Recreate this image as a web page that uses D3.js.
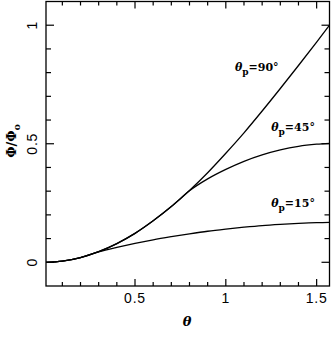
<!DOCTYPE html>
<html>
<head>
<meta charset="utf-8">
<script src="https://cdn.jsdelivr.net/npm/d3@7"></script>
<style>
  body { margin: 0; background: #fff; }
  svg { display: block; }
</style>
</head>
<body>
<div id="chart"></div>
<script>
// values
const theta = [0.01, 0.1, 0.2, 0.3, 0.4, 0.5, 0.6, 0.7, 0.8, 0.9, 1.0, 1.1, 1.2, 1.3, 1.4, 1.5, 1.5708];
const phi90 = [0, 0.005, 0.02, 0.045, 0.079, 0.122, 0.175, 0.235, 0.303, 0.378, 0.46, 0.546, 0.638, 0.733, 0.83, 0.929, 1.0];
const phi45 = [0, 0.005, 0.02, 0.045, 0.079, 0.122, 0.175, 0.235, 0.302, 0.352, 0.392, 0.426, 0.453, 0.474, 0.489, 0.498, 0.502];
const phi15 = [0, 0.005, 0.02, 0.044, 0.063, 0.08, 0.095, 0.108, 0.12, 0.131, 0.14, 0.148, 0.155, 0.16, 0.164, 0.167, 0.168];
const seriesNames = ["90", "45", "15"];
const labelPos = [[1.05, 0.805], [1.25, 0.555], [1.25, 0.235]]; // label anchor in data units (theta, phi)
const xMajor = [0.5, 1, 1.5];
const yMajor = [0, 0.5, 1];

const width = 332, height = 337;
const margin = { top: 1.5, right: 2.5, bottom: 51, left: 46 };

const svg = d3.select("#chart").append("svg")
    .attr("width", width)
    .attr("height", height);

const x = d3.scaleLinear()
    .domain([0.01, Math.PI / 2])
    .range([margin.left, width - margin.right]);

const y = d3.scaleLinear()
    .domain([-0.1, 1.1])
    .range([height - margin.bottom, margin.top]);

const xMinor = d3.range(1, 16).map(d => d / 10);
const yMinor = d3.range(0, 11).map(d => d / 10);

const g = svg.append("g");

// frame
g.append("rect")
    .attr("x", x.range()[0])
    .attr("y", y.range()[1])
    .attr("width", x.range()[1] - x.range()[0])
    .attr("height", y.range()[0] - y.range()[1])
    .attr("fill", "none")
    .attr("stroke", "#000")
    .attr("stroke-width", 1.3);

const isMajor = (v, list) => list.some(m => Math.abs(m - v) < 1e-6);

// inward ticks on all four sides
xMinor.forEach(v => {
    const len = isMajor(v, xMajor) ? 7 : 4;
    g.append("line").attr("x1", x(v)).attr("x2", x(v))
        .attr("y1", y.range()[0]).attr("y2", y.range()[0] - len)
        .attr("stroke", "#000").attr("stroke-width", 1.2);
    g.append("line").attr("x1", x(v)).attr("x2", x(v))
        .attr("y1", y.range()[1]).attr("y2", y.range()[1] + len)
        .attr("stroke", "#000").attr("stroke-width", 1.2);
});
yMinor.forEach(v => {
    const len = isMajor(v, yMajor) ? 8 : 5;
    g.append("line").attr("y1", y(v)).attr("y2", y(v))
        .attr("x1", x.range()[0]).attr("x2", x.range()[0] + len)
        .attr("stroke", "#000").attr("stroke-width", 1.2);
    g.append("line").attr("y1", y(v)).attr("y2", y(v))
        .attr("x1", x.range()[1]).attr("x2", x.range()[1] - len)
        .attr("stroke", "#000").attr("stroke-width", 1.2);
});

// tick labels
g.selectAll(".xlab").data(xMajor).enter().append("text")
    .attr("x", d => x(d))
    .attr("y", 303)
    .attr("text-anchor", "middle")
    .style("font-family", "Liberation Sans, Arial, sans-serif")
    .style("font-size", "14px")
    .style("letter-spacing", "0.8px")
    .text(d => d);

g.selectAll(".ylab").data(yMajor).enter().append("text")
    .attr("transform", d => `translate(37,${y(d)}) rotate(-90)`)
    .attr("text-anchor", "middle")
    .style("font-family", "Liberation Sans, Arial, sans-serif")
    .style("font-size", "14px")
    .style("letter-spacing", "0.8px")
    .text(d => d);

// axis titles
g.append("text")
    .attr("x", 187)
    .attr("y", 326)
    .attr("text-anchor", "middle")
    .style("font-family", "DejaVu Serif, serif")
    .style("font-style", "italic")
    .style("font-weight", "bold")
    .style("font-size", "13px")
    .text("θ");

const yt = g.append("text")
    .attr("transform", "translate(16,141) rotate(-90)")
    .attr("text-anchor", "middle")
    .style("font-family", "DejaVu Serif, serif")
    .style("font-weight", "bold")
    .style("font-size", "13px");
yt.append("tspan").text("Φ/Φ");
yt.append("tspan").attr("dy", 4).style("font-size", "9px").text("o");

// curves
const line = d3.line()
    .curve(d3.curveMonotoneX)
    .x(d => x(d[0]))
    .y(d => y(d[1]));

[phi90, phi45, phi15].forEach(vals => {
    g.append("path")
        .attr("d", line(theta.map((t, i) => [t, vals[i]])))
        .attr("fill", "none")
        .attr("stroke", "#000")
        .attr("stroke-width", 1.3);
});

// curve labels
seriesNames.forEach((name, i) => {
    const t = g.append("text")
        .attr("x", x(labelPos[i][0]))
        .attr("y", y(labelPos[i][1]))
        .style("font-family", "DejaVu Serif, serif")
        .style("font-weight", "bold")
        .style("font-size", "11px");
    t.append("tspan").style("font-style", "italic").text("θ");
    t.append("tspan").attr("dy", 4).style("font-size", "9px").text("p");
    t.append("tspan").attr("dy", -4).text("=" + name + "°");
});
</script>
</body>
</html>
